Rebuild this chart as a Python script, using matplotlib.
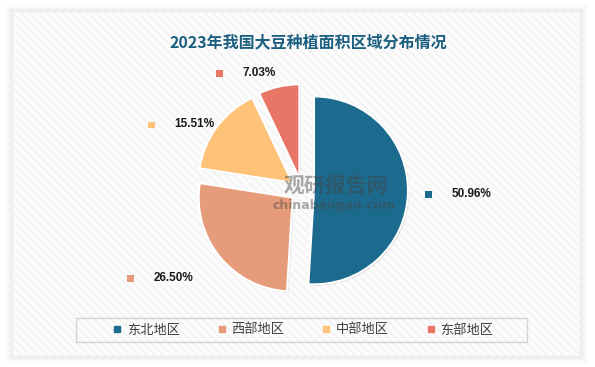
import matplotlib
matplotlib.use("Agg")
import matplotlib.pyplot as plt
import matplotlib.patheffects as pe
from matplotlib.patches import Rectangle
from matplotlib.lines import Line2D
from matplotlib.offsetbox import AnnotationBbox, HPacker, TextArea, DrawingArea
import numpy as np

# ---------------- data ----------------
regions = ["东北地区", "西部地区", "中部地区", "东部地区"]
shares = [50.96, 26.50, 15.51, 7.03]
colors = ["#1c6b8e", "#e69b7a", "#fec278", "#e87565"]
title = "2023年我国大豆种植面积区域分布情况"

plt.rcParams['font.family'] = ['Noto Sans CJK SC', 'DejaVu Sans']
plt.rcParams['hatch.color'] = '#ececec'
plt.rcParams['hatch.linewidth'] = 0.6

W, H = 595, 367
fig = plt.figure(figsize=(W / 100, H / 100), dpi=100)
ax = fig.add_axes([0, 0, 1, 1])

# 背景卡片 + 阴影
for i, a in enumerate([0.025, 0.02, 0.015, 0.01]):
    d = 2 + i * 2
    ax.add_patch(Rectangle((13 - d, 11 - d), 567 + 2 * d, 344 + 2 * d,
                           facecolor='#000000', alpha=a, edgecolor='none', zorder=0))
card = Rectangle((13, 11), 567, 344, facecolor='#fbfbfb', edgecolor='#ececec',
                 hatch='\\\\\\\\', linewidth=0.0, zorder=1)
ax.add_patch(card)

# 标题
ax.text(308, H - 42, title, ha='center', va='center', fontsize=11.5,
        fontweight='bold', color='#1b5f80', zorder=5)

# 饼图 (explode 为绝对偏移, 单位像素)
cx, cy, r = 302, H - 190, 94
wedges, _ = ax.pie(shares, colors=colors, startangle=90, counterclock=False,
                   explode=[12] * 4, radius=r, center=(cx, cy), frame=True,
                   wedgeprops=dict(edgecolor='white', linewidth=1.5, zorder=3))
for w in wedges:
    w.set_path_effects([pe.SimplePatchShadow(offset=(1, -1), shadow_rgbFace='#000000', alpha=0.12),
                        pe.Normal()])
ax.set_xlim(0, W)
ax.set_ylim(0, H)
ax.axis('off')

# 水印
ax.text(336, H - 185, "观研报告网", ha='center', va='center', fontsize=15,
        fontweight='bold', color='#444444', alpha=0.45, zorder=4)
ax.text(334, H - 206, "chinabaogao.com", ha='center', va='center', fontsize=9,
        fontweight='bold', family='DejaVu Sans', color='#444444', alpha=0.45, zorder=4)

# 数据标签
label_dist = [1.18, 1.36, 1.04, 1.15]
for w, val, col, k in zip(wedges, shares, colors, label_dist):
    th = np.deg2rad((w.theta1 + w.theta2) / 2)
    wx, wy = w.center
    ex, ey = wx + k * r * np.cos(th), wy + k * r * np.sin(th)
    da = DrawingArea(6, 6, 0, 0)
    da.add_artist(Rectangle((0, 0), 5, 5, facecolor=col, edgecolor='none'))
    ta = TextArea(f"{val:.2f}%", textprops=dict(fontsize=8.5, fontweight='bold',
                                                  family='Liberation Sans', color='#1a1a1a'))
    box = HPacker(children=[da, ta], align='center', pad=0, sep=13)
    align = (0, 0.5) if np.cos(th) >= 0 else (1, 0.5)
    ab = AnnotationBbox(box, (ex, ey), frameon=False, box_alignment=align, zorder=5)
    ax.add_artist(ab)

# 图例
ax.add_patch(Rectangle((76, H - 342), 451, 24, facecolor='none', edgecolor='#d4d4d4',
                       linewidth=1, zorder=4))
handles = [Line2D([], [], marker='s', linestyle='none', markersize=5,
                  markerfacecolor=c, markeredgecolor=c) for c in colors]
leg = ax.legend(handles, regions, loc='center', bbox_to_anchor=(303 / W, (H - 330) / H),
                ncol=4, frameon=False, fontsize=9.5, handlelength=0.7, handletextpad=0.4,
                columnspacing=2.8, bbox_transform=fig.transFigure)
for t in leg.get_texts():
    t.set_color('#404040')

fig.savefig("out.png", dpi=100)
